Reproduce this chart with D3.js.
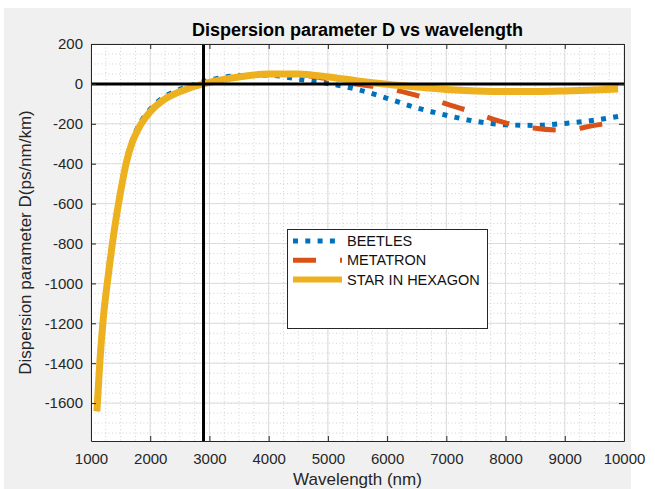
<!DOCTYPE html>
<html>
<head>
<meta charset="utf-8">
<script src="https://cdn.jsdelivr.net/npm/d3@7"></script>
<style>
  body { margin: 0; background: #fff; }
  svg { display: block; font-family: "Liberation Sans", Arial, sans-serif; }
</style>
</head>
<body>
<script>
// values
const wavelength = [1100, 1150, 1200, 1300, 1400, 1500, 1600, 1700, 1800, 2000, 2200, 2400, 2600, 2800, 3000,
    3500, 4000, 4500, 5000, 5500, 6000, 6500, 7000, 7500, 8000, 8500, 9000, 9500, 9900]
const beetles = [-1640, -1385, -1195, -930, -710, -530, -380, -280, -212, -127, -72, -40, -17, 2, 18,
    42, 44, 24, 2, -28, -72, -120, -157, -188, -205, -208, -198, -182, -163]
const metatron = [-1640, -1390, -1200, -940, -720, -540, -390, -290, -225, -140, -85, -52, -28, -8, 8,
    35, 48, 45, 25, -2, -22, -58, -100, -147, -195, -222, -232, -208, -188]
const starInHexagon = [-1640, -1390, -1200, -940, -720, -540, -390, -290, -225, -140, -85, -52, -28, -8, 8,
    35, 50, 50, 35, 15, -2, -16, -28, -35, -38, -38, -35, -30, -25]
const seriesNames = ["BEETLES", "METATRON", "STAR IN HEXAGON"]
const xTicks = [1000, 2000, 3000, 4000, 5000, 6000, 7000, 8000, 9000, 10000]
const yTicks = [200, 0, -200, -400, -600, -800, -1000, -1200, -1400, -1600]
const crossWavelength = 2900
const zeroD = 0

const width = 655, height = 489
const mLeft = 91, mRight = 624, mTop = 44, mBottom = 441

const x = d3.scaleLinear().domain([1000, 10000]).range([mLeft, mRight])
const y = d3.scaleLinear().domain([-1790, 200]).range([mBottom, mTop])

const svg = d3.select("body").append("svg")
    .attr("width", width)
    .attr("height", height)

// figure background
svg.append("rect").attr("x", 4).attr("y", 8).attr("width", 627).attr("height", height - 8).attr("fill", "#f0f0f0")
svg.append("rect").attr("x", mLeft).attr("y", mTop).attr("width", mRight - mLeft).attr("height", mBottom - mTop).attr("fill", "#fff")

// grid
const grid = svg.append("g")
grid.selectAll(".minx").data(d3.range(1000, 10001, 250)).join("line")
    .attr("x1", d => x(d)).attr("x2", d => x(d)).attr("y1", mTop).attr("y2", mBottom)
    .attr("stroke", "#c8c8c8").attr("stroke-width", 0.8).attr("stroke-dasharray", "1,2.5")
grid.selectAll(".miny").data(d3.range(-1750, 201, 50)).join("line")
    .attr("y1", d => y(d)).attr("y2", d => y(d)).attr("x1", mLeft).attr("x2", mRight)
    .attr("stroke", "#c8c8c8").attr("stroke-width", 0.8).attr("stroke-dasharray", "1,2.5")
grid.selectAll(".majx").data(xTicks).join("line")
    .attr("x1", d => x(d)).attr("x2", d => x(d)).attr("y1", mTop).attr("y2", mBottom)
    .attr("stroke", "#dcdcdc").attr("stroke-width", 1)
grid.selectAll(".majy").data(yTicks).join("line")
    .attr("y1", d => y(d)).attr("y2", d => y(d)).attr("x1", mLeft).attr("x2", mRight)
    .attr("stroke", "#dcdcdc").attr("stroke-width", 1)

const series = [
    {name: seriesNames[0], values: beetles, color: "#0072bd", width: 5, dash: "5,7.3"},
    {name: seriesNames[1], values: metatron, color: "#d95319", width: 5, dash: "23,24"},
    {name: seriesNames[2], values: starInHexagon, color: "#edb120", width: 7, dash: null}
]

const line = d3.line()
    .x(d => x(d[0]))
    .y(d => y(d[1]))
    .curve(d3.curveMonotoneX)

svg.append("g").selectAll("path")
    .data(series)
    .join("path")
    .attr("fill", "none")
    .attr("stroke", d => d.color)
    .attr("stroke-width", d => d.width)
    .attr("stroke-dasharray", d => d.dash)
    .attr("d", d => line(wavelength.map((w, i) => [w, d.values[i]])))

// black reference lines
svg.append("line")
    .attr("x1", mLeft).attr("x2", mRight).attr("y1", y(zeroD)).attr("y2", y(zeroD))
    .attr("stroke", "#000").attr("stroke-width", 3)
svg.append("line")
    .attr("x1", x(crossWavelength)).attr("x2", x(crossWavelength)).attr("y1", mTop).attr("y2", mBottom)
    .attr("stroke", "#000").attr("stroke-width", 3)

// axes box with inward ticks
const axisColor = "#262626"
const fmt = d => String(d)
const gx = svg.append("g").attr("transform", `translate(0,${mBottom})`)
    .call(d3.axisBottom(x).tickValues(xTicks).tickFormat(fmt).tickSizeInner(-5).tickSizeOuter(0).tickPadding(12))
const gy = svg.append("g").attr("transform", `translate(${mLeft},0)`)
    .call(d3.axisLeft(y).tickValues(yTicks).tickFormat(fmt).tickSizeInner(-5).tickSizeOuter(0).tickPadding(8))
const gt = svg.append("g").attr("transform", `translate(0,${mTop})`)
    .call(d3.axisTop(x).tickValues(xTicks).tickSizeInner(-5).tickSizeOuter(0).tickFormat(""))
const gr = svg.append("g").attr("transform", `translate(${mRight},0)`)
    .call(d3.axisRight(y).tickValues(yTicks).tickSizeInner(-5).tickSizeOuter(0).tickFormat(""))

for (const g of [gx, gy, gt, gr]) {
    g.selectAll("path").attr("stroke", axisColor)
    g.selectAll("line").attr("stroke", axisColor)
    g.selectAll("text").attr("fill", axisColor).attr("font-size", 15)
        .attr("font-family", "Liberation Sans, Arial, sans-serif")
}

// legend
const legend = svg.append("g").attr("transform", "translate(287,229)")
legend.append("rect")
    .attr("x", 0.5).attr("y", 0.5).attr("width", 200).attr("height", 99)
    .attr("fill", "#fff").attr("stroke", axisColor).attr("stroke-width", 1)
const item = legend.selectAll(".item").data(series).join("g")
    .attr("transform", (d, i) => `translate(0,${12 + i * 19.3})`)
item.append("line")
    .attr("x1", 6).attr("x2", 55).attr("y1", 0).attr("y2", 0)
    .attr("stroke", d => d.color)
    .attr("stroke-width", (d, i) => i === 2 ? 6 : 5)
    .attr("stroke-dasharray", d => d.dash)
item.append("text")
    .attr("x", 60).attr("y", 0).attr("dy", "0.35em")
    .attr("font-size", 14.5).attr("fill", "#111")
    .text(d => d.name)

// title and labels
svg.append("text")
    .attr("x", (mLeft + mRight) / 2).attr("y", 36)
    .attr("text-anchor", "middle").attr("font-weight", "bold").attr("font-size", 18).attr("fill", "#000")
    .text("Dispersion parameter D vs wavelength")
svg.append("text")
    .attr("x", (mLeft + mRight) / 2).attr("y", 485)
    .attr("text-anchor", "middle").attr("font-size", 17).attr("fill", axisColor)
    .text("Wavelength (nm)")
svg.append("text")
    .attr("transform", `translate(31,${(mTop + mBottom) / 2}) rotate(-90)`)
    .attr("text-anchor", "middle").attr("font-size", 17).attr("fill", axisColor)
    .text("Dispersion parameter D(ps/nm/km)")
</script>
</body>
</html>
